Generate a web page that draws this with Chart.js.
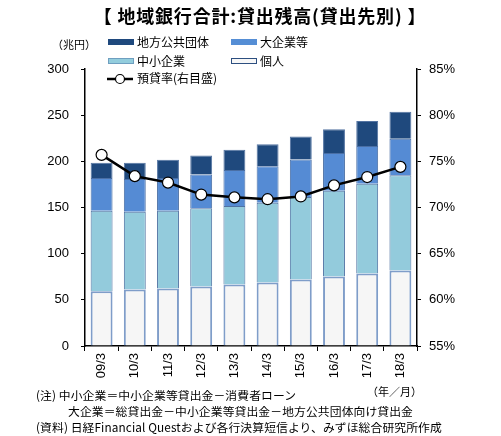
<!DOCTYPE html>
<html>
<head>
<meta charset="utf-8">
<script src="https://cdn.jsdelivr.net/npm/chart.js@4"></script>
<style>
  body { margin: 0; background: #fff; font-family: "Noto Sans CJK JP", sans-serif; color: #000; }
  #wrap { position: relative; width: 501px; height: 436px; }
  canvas { position: absolute; left: 0; top: 0; }
  .t { position: absolute; white-space: nowrap; font-size: 12px; line-height: 1; }
  .n { font-size: 11.8px; letter-spacing: 0.1px; }
  .sw { position: absolute; width: 26px; height: 6px; box-sizing: border-box; }
</style>
</head>
<body>
<div id="wrap">
  <canvas id="c" width="501" height="436"></canvas>
  <div class="t" style="left:0;width:520px;text-align:center;top:6px;font-size:18px;font-weight:bold;letter-spacing:0.8px;">【 地域銀行合計:貸出残高(貸出先別) 】</div>
  <div class="t" style="left:52px;top:39px;font-size:11px;">（兆円）</div>

  <div class="sw" style="left:108px;top:39px;background:#1f497d;"></div>
  <div class="t" style="left:137px;top:36px;">地方公共団体</div>
  <div class="sw" style="left:231px;top:39px;background:#558ed5;"></div>
  <div class="t" style="left:260px;top:36px;">大企業等</div>
  <div class="sw" style="left:108px;top:58px;background:#93cddd;border:1px solid #6f9fc0;"></div>
  <div class="t" style="left:137px;top:55px;">中小企業</div>
  <div class="sw" style="left:231px;top:58px;background:#f7f7f7;border:1px solid #2d4f80;"></div>
  <div class="t" style="left:260px;top:55px;">個人</div>
  <div class="t" style="left:137px;top:72px;">預貸率(右目盛)</div>

  <div class="t" style="left:367px;top:386px;font-size:11px;">（年／月）</div>
  <div class="t n" style="left:36px;top:389px;">(注) 中小企業＝中小企業等貸出金－消費者ローン</div>
  <div class="t n" style="left:68px;top:405px;">大企業＝総貸出金－中小企業等貸出金－地方公共団体向け貸出金</div>
  <div class="t n" style="left:36px;top:421px;">(資料) 日経Financial Questおよび各行決算短信より、みずほ総合研究所作成</div>
</div>
<script>
const labels = ['09/3', '10/3', '11/3', '12/3', '13/3', '14/3', '15/3', '16/3', '17/3', '18/3'];
const kojin = [59.4, 61.2, 62.3, 64.5, 66.6, 68.8, 72.0, 75.3, 78.5, 81.9];
const chusho = [87.2, 84.3, 84.3, 84.6, 85.0, 86.4, 89.3, 92.9, 97.2, 102.9];
const daikigyo = [35.3, 35.3, 35.3, 36.7, 38.9, 39.6, 40.7, 40.7, 40.8, 39.7];
const chiho = [16.5, 17.6, 19.8, 20.6, 22.0, 23.8, 24.9, 25.9, 27.3, 29.3];
const yotai = [75.7, 73.4, 72.7, 71.4, 71.1, 70.9, 71.2, 72.4, 73.3, 74.4];

const tickFont = { family: 'Liberation Sans, Arial', size: 13 };

// legend line sample for 預貸率
const legendLine = {
  id: 'legendLine',
  afterDraw(chart) {
    const ctx = chart.ctx;
    ctx.save();
    ctx.strokeStyle = '#000';
    ctx.lineWidth = 2.5;
    ctx.beginPath();
    ctx.moveTo(107, 79);
    ctx.lineTo(133, 79);
    ctx.stroke();
    ctx.beginPath();
    ctx.arc(120, 79, 4.5, 0, Math.PI * 2);
    ctx.fillStyle = '#fff';
    ctx.fill();
    ctx.lineWidth = 1.2;
    ctx.stroke();
    ctx.restore();
  }
};

const bar = (label, data, bg, border, bw) => ({
  type: 'bar', label, data, backgroundColor: bg, borderColor: border, borderWidth: bw,
  yAxisID: 'y', stack: 's', order: 1, barPercentage: 0.66, categoryPercentage: 1
});

new Chart(document.getElementById('c'), {
  data: {
    labels: labels,
    datasets: [
      {
        type: 'line', label: '預貸率(右目盛)', data: yotai, yAxisID: 'y1', order: 0,
        borderColor: '#000', borderWidth: 2.5, pointRadius: 5.5, pointBackgroundColor: '#fff',
        pointBorderColor: '#000', pointBorderWidth: 1.2, tension: 0
      },
      bar('個人', kojin, '#f6f6f6', '#7f9dc9', 2),
      bar('中小企業', chusho, '#93cbdc', '#4f72a3', 1),
      bar('大企業等', daikigyo, '#558bd4', '#4a6fa5', 1),
      bar('地方公共団体', chiho, '#1f497d', '#5474a2', 1)
    ]
  },
  options: {
    responsive: false,
    animation: false,
    layout: { padding: { left: 30, right: 38, top: 69, bottom: 41 } },
    plugins: { legend: { display: false }, tooltip: { enabled: false } },
    scales: {
      x: {
        stacked: true,
        afterFit: s => { s.height = 49; },
        border: { color: '#000', width: 1.5 },
        grid: { offset: true, drawOnChartArea: false, color: '#000', tickLength: 5 },
        ticks: { maxRotation: 90, minRotation: 90, color: '#000', font: tickFont, padding: 2 }
      },
      y: {
        stacked: true, min: 0, max: 300,
        afterFit: s => { s.width = 55; },
        border: { color: '#000', width: 1.5 },
        grid: { drawOnChartArea: false, color: '#000', tickLength: 4 },
        ticks: { stepSize: 50, color: '#000', font: tickFont, padding: 12 }
      },
      y1: {
        position: 'right', min: 55, max: 85,
        afterFit: s => { s.width = 46; },
        border: { color: '#000', width: 1.5 },
        grid: { drawOnChartArea: false, color: '#000', tickLength: 4 },
        ticks: { stepSize: 5, color: '#000', font: tickFont, padding: 8, callback: v => v + '%' }
      }
    }
  },
  plugins: [legendLine]
});
</script>
</body>
</html>
